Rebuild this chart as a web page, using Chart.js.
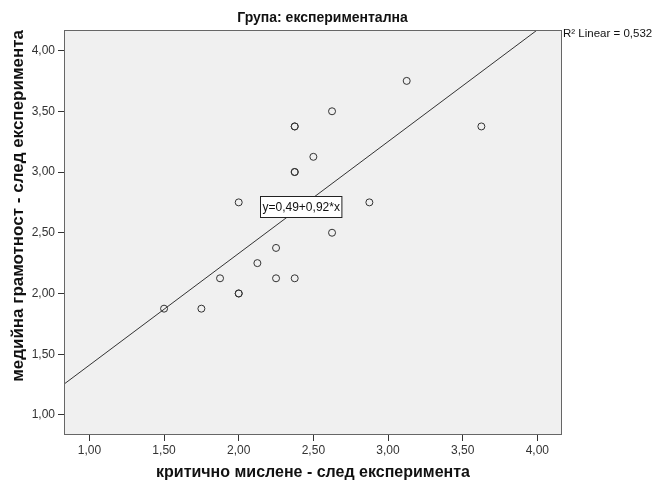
<!DOCTYPE html>
<html>
<head>
<meta charset="utf-8">
<script src="https://cdn.jsdelivr.net/npm/chart.js@4.4.0/dist/chart.umd.min.js"></script>
<style>
  html, body { margin: 0; padding: 0; background: #fff; }
</style>
</head>
<body>
<canvas id="scatter" width="654" height="482"></canvas>
<script>
var chartTitle = 'Група: експериментална';
var xTitle = 'критично мислене - след експеримента';
var yTitle = 'медийна грамотност - след експеримента';

// critical thinking (x) vs media literacy (y), after the experiment
var xValues = [3.125, 2.625, 2.375, 2.375, 2.5, 2.375, 2.375, 2.0, 2.875, 2.625, 3.625,
               2.25, 2.125, 1.875, 2.25, 2.375, 2.0, 2.0, 1.5, 1.75];
var yValues = [3.75, 3.5, 3.375, 3.375, 3.125, 3.0, 3.0, 2.75, 2.75, 2.5, 3.375,
               2.375, 2.25, 2.125, 2.125, 2.125, 2.0, 2.0, 1.875, 1.875];

var xTicks = [1, 1.5, 2, 2.5, 3, 3.5, 4];
var yTicks = [1, 1.5, 2, 2.5, 3, 3.5, 4];

var fitIntercept = 0.49;
var fitSlope = 0.92;
var fitLabel = 'y=0,49+0,92*x';
var r2Label = 'R² Linear = 0,532';

function comma(v) {
  return v.toFixed(2).replace('.', ',');
}

var xMin = 0.83, xMax = 4.165;
var yMin = 0.835, yMax = 4.169;

var points = [];
for (var i = 0; i < xValues.length; i++) {
  points.push({x: xValues[i], y: yValues[i]});
}
var fitLine = [
  {x: xMin, y: fitIntercept + fitSlope * xMin},
  {x: xMax, y: fitIntercept + fitSlope * xMax}
];

var FONT = '"Liberation Sans", Arial, sans-serif';

var plotFrame = {
  id: 'plotFrame',
  beforeDraw: function(chart) {
    var a = chart.chartArea, ctx = chart.ctx;
    ctx.save();
    ctx.fillStyle = '#f0f0f0';
    ctx.fillRect(a.left, a.top, a.right - a.left, a.bottom - a.top);
    ctx.restore();
  },
  afterDatasetsDraw: function(chart) {
    var ctx = chart.ctx;
    var sx = chart.scales.x, sy = chart.scales.y;
    // equation box
    var cx = sx.getPixelForValue(2.417), cy = sy.getPixelForValue(2.714);
    ctx.save();
    ctx.font = '12px ' + FONT;
    var w = ctx.measureText(fitLabel).width + 4;
    var h = 21;
    var bx = Math.round(cx - w / 2) + 0.5, by = Math.round(cy - h / 2) + 0.5;
    ctx.fillStyle = '#ffffff';
    ctx.fillRect(bx, by, w, h);
    ctx.strokeStyle = '#222';
    ctx.lineWidth = 1;
    ctx.strokeRect(bx, by, w, h);
    ctx.fillStyle = '#111';
    ctx.textAlign = 'center';
    ctx.textBaseline = 'middle';
    ctx.fillText(fitLabel, bx + w / 2, by + h / 2 + 1);
    ctx.restore();
  },
  afterDraw: function(chart) {
    var a = chart.chartArea, ctx = chart.ctx;
    ctx.save();
    ctx.strokeStyle = '#666';
    ctx.lineWidth = 1;
    ctx.strokeRect(Math.round(a.left) + 0.5, Math.round(a.top) + 0.5,
                   Math.round(a.right - a.left) - 1, Math.round(a.bottom - a.top) - 1);
    ctx.font = '11.5px ' + FONT;
    ctx.fillStyle = '#111';
    ctx.textAlign = 'left';
    ctx.textBaseline = 'middle';
    ctx.fillText(r2Label, a.right + 1, a.top + 4);
    ctx.restore();
  }
};

new Chart(document.getElementById('scatter'), {
  type: 'scatter',
  data: {
    datasets: [
      {
        label: 'observed',
        data: points,
        pointRadius: 3.5,
        pointHoverRadius: 3.5,
        pointBorderColor: '#333',
        pointBackgroundColor: 'rgba(0,0,0,0)',
        pointBorderWidth: 1
      },
      {
        type: 'line',
        label: 'fit',
        data: fitLine,
        borderColor: '#333',
        borderWidth: 1,
        pointRadius: 0,
        fill: false
      }
    ]
  },
  options: {
    responsive: false,
    animation: false,
    events: [],
    layout: { padding: { top: 0, right: 9, bottom: 0, left: 0 } },
    plugins: {
      legend: { display: false },
      tooltip: { enabled: false },
      title: {
        display: true,
        text: chartTitle,
        color: '#111',
        font: { family: FONT, size: 14, weight: 'bold' },
        padding: { top: 10, bottom: 3.2 }
      }
    },
    scales: {
      x: {
        type: 'linear',
        min: xMin,
        max: xMax,
        afterBuildTicks: function(scale) {
          scale.ticks = xTicks.map(function(v) { return {value: v}; });
        },
        afterFit: function(scale) { scale.height = 47; },
        grid: { display: true, drawOnChartArea: false, drawTicks: true, tickLength: 6, color: '#333' },
        border: { display: false },
        ticks: {
          padding: 2,
          color: '#333',
          font: { family: FONT, size: 12 },
          callback: function(v) { return comma(v); }
        },
        title: {
          display: true,
          text: xTitle,
          color: '#111',
          font: { family: FONT, size: 16, weight: 'bold' },
          padding: { top: 0, bottom: 0 }
        }
      },
      y: {
        type: 'linear',
        min: yMin,
        max: yMax,
        afterBuildTicks: function(scale) {
          scale.ticks = yTicks.map(function(v) { return {value: v}; });
        },
        afterFit: function(scale) { scale.width = 64; },
        grid: { display: true, drawOnChartArea: false, drawTicks: true, tickLength: 6, color: '#333' },
        border: { display: false },
        ticks: {
          padding: 3,
          color: '#333',
          font: { family: FONT, size: 12 },
          callback: function(v) { return comma(v); }
        },
        title: {
          display: true,
          text: yTitle,
          align: 'end',
          color: '#111',
          font: { family: FONT, size: 17, weight: 'bold' },
          padding: { top: 7.8, bottom: 0 }
        }
      },
      // empty margin on the right that holds the R² note
      yRight: {
        type: 'linear',
        position: 'right',
        display: true,
        afterFit: function(scale) { scale.width = 83; },
        grid: { display: false },
        border: { display: false },
        ticks: { display: false }
      }
    }
  },
  plugins: [plotFrame]
});
</script>
</body>
</html>
